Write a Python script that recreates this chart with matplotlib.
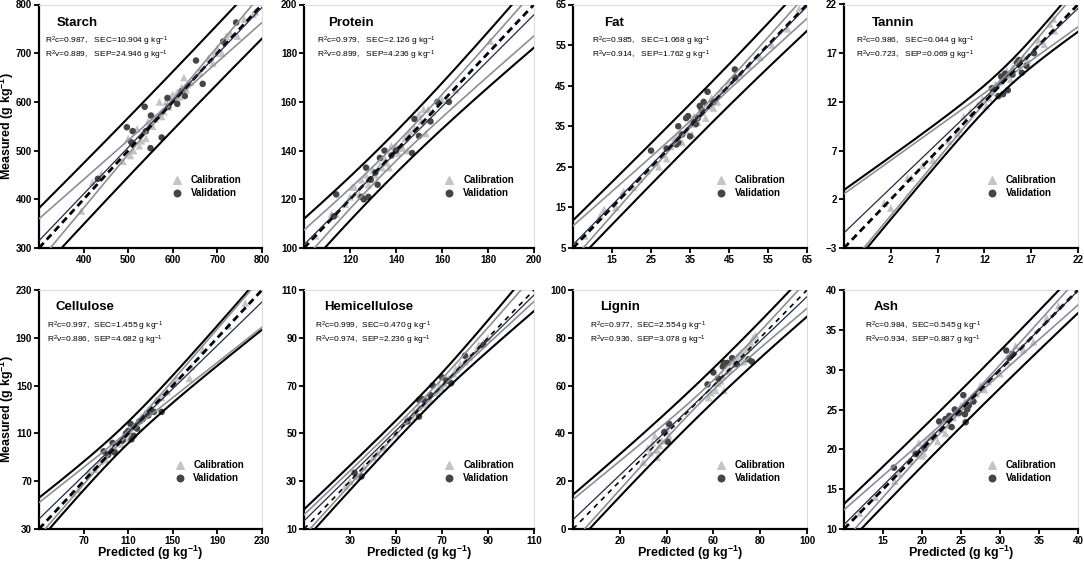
import numpy as np
import matplotlib
matplotlib.use("Agg")
import matplotlib.pyplot as plt

plt.rcParams["font.family"] = ["Liberation Sans", "DejaVu Sans"]
plt.rcParams["mathtext.fontset"] = "custom"
plt.rcParams["mathtext.rm"] = "Liberation Sans"
plt.rcParams["mathtext.it"] = "Liberation Sans:italic"
plt.rcParams["mathtext.bf"] = "Liberation Sans:bold"

# Data
names = ["Starch", "Protein", "Fat", "Tannin",
         "Cellulose", "Hemicellulose", "Lignin", "Ash"]
limits = [(300, 800), (100, 200), (5, 65), (-3, 22),
          (30, 230), (10, 110), (0, 100), (10, 40)]
xticks = [[400, 500, 600, 700, 800], [120, 140, 160, 180, 200],
          [15, 25, 35, 45, 55, 65], [2, 7, 12, 17, 22],
          [70, 110, 150, 190, 230], [30, 50, 70, 90, 110],
          [20, 40, 60, 80, 100], [15, 20, 25, 30, 35, 40]]
yticks = [[300, 400, 500, 600, 700, 800], [100, 120, 140, 160, 180, 200],
          [5, 15, 25, 35, 45, 55, 65], [-3, 2, 7, 12, 17, 22],
          [30, 70, 110, 150, 190, 230], [10, 30, 50, 70, 90, 110],
          [0, 20, 40, 60, 80, 100], [10, 15, 20, 25, 30, 35, 40]]

r2c = ["0.987", "0.979", "0.985", "0.986", "0.997", "0.999", "0.977", "0.984"]
sec = ["10.904", "2.126", "1.068", "0.044", "1.455", "0.470", "2.554", "0.545"]
r2v = ["0.889", "0.899", "0.914", "0.723", "0.886", "0.974", "0.936", "0.934"]
sep = ["24.946", "4.236", "1.762", "0.069", "4.682", "2.236", "3.078", "0.887"]

# regression line (y at x-min, y at x-max) and centre of the bands
reg_line = [(315, 794), (101.4, 195.8), (5.8, 64.5), (-1.44, 21.6),
            (38.4, 220), (13.4, 107.9), (3.9, 97.2), (10.55, 39.9)]
band_mid = [(316, 793), (101.3, 196.3), (6.3, 64.6), (-1.44, 21.6),
            (38.1, 219.8), (11.6, 110.7), (3.5, 98.1), (10.45, 39.8)]
x_mean = [594, 137, 37, 14, 110, 62, 58, 25.5]
# confidence band: half width at mean, at x-min, at x-max
conf_band = [(3, 44, 30), (3.5, 6.1, 9.2), (0.8, 4.15, 3.05), (0.2, 4.0, 1.9),
             (1.5, 14, 21), (1.5, 4.35, 5.5), (2, 8.85, 5.8), (0.3, 1.96, 1.68)]
# prediction band: half width at mean, at x-min, at x-max
pred_band = [(60, 66, 63), (8.5, 10.7, 14), (5, 5.5, 6.1), (1.2, 4.4, 2.4),
             (9, 18, 23), (4, 6.6, 9.5), (7, 10.85, 9.25), (2.3, 2.7, 2.7)]

cal_pts = [
    [(395, 376), (420, 435), (440, 452), (488, 478), (500, 525), (505, 490), (512, 500),
     (520, 545), (525, 510), (530, 520), (540, 525), (545, 560), (550, 555), (555, 550),
     (560, 565), (570, 600), (575, 570), (580, 580), (585, 600), (590, 590), (595, 610),
     (600, 615), (605, 605), (610, 620), (615, 610), (620, 630), (625, 650), (630, 625),
     (640, 640), (660, 660), (680, 690), (690, 680), (695, 700), (700, 710), (710, 700),
     (720, 735), (730, 740), (745, 735), (760, 770), (780, 780), (785, 785)],
    [(105, 105), (112, 114), (114, 114), (118, 118), (120, 121), (121, 125), (122, 125),
     (124, 122), (125, 128), (127, 130), (128, 126), (130, 132), (131, 130), (133, 134),
     (134, 133), (135, 137), (136, 135), (137, 133), (138, 142), (139, 140), (140, 142),
     (141, 139), (143, 141), (144, 145), (145, 140), (145, 146), (146, 148), (148, 149),
     (150, 155), (151, 152), (152, 157), (153, 147), (154, 157), (156, 156), (160, 161),
     (166, 165), (181, 185)],
    [(8, 8), (12, 13), (13, 14.5), (16, 15), (18, 19), (20.5, 20), (22, 22), (24, 24),
     (26, 26), (27, 25), (28, 28), (29, 27), (30, 30), (31, 32), (32, 33), (33, 31),
     (34, 34), (35, 35.5), (35.5, 33), (36, 37.5), (37, 36), (38, 38.5), (39, 37),
     (40, 40), (40.5, 42), (41, 39.5), (42, 41), (43, 44), (45, 46), (47, 47), (48, 48),
     (50, 50), (53, 52), (56, 55), (60, 59), (63, 64)],
    [(1.3, 1.6), (2, 1.1), (3.8, 4.2), (4.2, 4.2), (5.4, 5.5), (6.5, 6), (8.2, 8),
     (9.1, 8.8), (9.3, 9.2), (9.8, 10.5), (10.5, 11), (11.3, 11.7), (11.8, 12.3),
     (12.2, 11.6), (12.5, 12.4), (12.8, 13), (13.2, 13.8), (13.7, 14.2), (14.4, 15.2),
     (14.8, 14.3), (15, 15.5), (15.3, 16.3), (16.2, 16.5), (16.6, 16.3), (17.3, 17.2),
     (17.8, 18.3), (18.4, 17.9), (19, 20), (19.5, 19.3), (19.4, 20.5)],
    [(60, 60), (65, 63), (75, 78), (80, 80), (85, 87), (90, 88), (94, 95), (98, 98),
     (102, 104), (104, 101), (106, 108), (108, 106), (110, 113), (112, 110), (115, 117),
     (117, 116), (120, 121), (122, 124), (125, 127), (128, 130), (131, 132), (135, 138),
     (140, 140), (145, 145), (150, 152), (153, 156), (165, 156), (167, 166), (177, 180),
     (200, 200), (215, 219)],
    [(28, 28), (30, 30), (33, 32), (36, 36), (40, 40), (42, 42), (45, 44), (50, 50),
     (55, 56), (57, 57), (58, 59), (60, 61), (62, 62), (63, 63), (64, 65), (65, 64),
     (67, 67), (68, 68), (69, 70), (70, 69), (71, 71), (72, 73), (73, 73), (75, 75),
     (76, 77), (78, 79), (80, 80), (82, 82), (85, 85), (86, 87), (88, 88), (90, 90)],
    [(30, 28), (32, 34), (33, 32), (34, 36), (35, 39), (36, 33), (36, 30), (37, 35),
     (38, 37), (39, 41), (40, 42), (41, 39), (42, 44), (58, 55), (59, 57), (61, 58),
     (62, 61), (63, 62), (64, 64), (64.5, 58), (66, 66), (67, 67), (68, 70), (69, 69),
     (70, 72), (71, 73), (72, 74), (73, 71), (73, 70), (74, 75), (75, 76), (76, 78),
     (77, 80), (78, 81)],
    [(12, 12), (14, 14), (16.5, 16), (17, 17), (18.5, 18.5), (19, 20), (19.6, 20.8),
     (20, 19.2), (20.2, 19.5), (20.5, 21), (21, 21.5), (21.5, 22), (22, 21), (22.5, 22.5),
     (23, 22), (23.5, 23), (24, 24), (24.5, 24.5), (25, 25.5), (25.5, 26), (26, 25.8),
     (26.5, 26.5), (27, 27), (27.5, 28), (28, 27.5), (28.5, 28.5), (30, 29.5), (31, 31),
     (32, 33), (33, 32.5), (34.3, 33.5), (36, 36.5), (37.5, 38)],
]
val_pts = [
    [(497, 548), (510, 540), (537, 590), (551, 572), (507, 517), (550, 505), (575, 527),
     (432, 442), (588, 608), (610, 596), (620, 622), (627, 612), (652, 685), (667, 637),
     (713, 724), (742, 763), (590, 590), (540, 540)],
    [(114, 122), (113, 113), (127, 133), (125, 121), (126, 120), (128, 121), (129, 128),
     (131, 131), (133, 137), (132, 126), (135, 140), (138, 138), (140, 140), (147, 139),
     (148, 153), (150, 146), (155, 152), (158, 160), (163, 160)],
    [(25, 29), (29, 29.5), (31.5, 30.5), (32, 35), (33, 33), (34, 37), (34.5, 37.5),
     (35, 32.5), (36, 36), (36.5, 35.5), (37, 37), (37.5, 40), (38, 39), (38.5, 41),
     (39.5, 43.5), (41, 41), (46.5, 47), (46.5, 49), (32, 31)],
    [(12.8, 13.4), (13.8, 14.6), (13.5, 12.6), (14, 12.8), (14.5, 13.2), (15, 14.8),
     (15.5, 16), (15.7, 16.3), (16, 15), (16.5, 15.7), (17.3, 17), (14.2, 14.9)],
    [(88, 95), (92, 92), (96, 102), (98, 94), (108, 110), (110, 112), (112, 118),
     (113, 105), (115, 108), (118, 114), (120, 120), (123, 122), (128, 125), (133, 128),
     (140, 128), (105, 104)],
    [(32, 33.5), (35, 32), (55, 55), (60, 57), (60, 64), (61, 64.5), (62, 64), (66, 70),
     (70, 73.5), (74, 71), (80, 82.5), (88, 87), (65, 66), (72, 72)],
    [(39, 40.5), (40.5, 36.5), (41, 44), (57.5, 60.5), (60, 65.5), (64, 68), (64.5, 69.5),
     (66, 69.5), (68, 71.5), (70, 69), (75, 71), (76.5, 70), (62, 63)],
    [(16.4, 17.7), (19.2, 19.4), (20.3, 20.1), (22.2, 23.5), (23, 23.8), (23.5, 24.2),
     (23.8, 22.8), (24.2, 25), (25.3, 26.8), (25.5, 24.4), (25.6, 23.4), (25.8, 25),
     (26, 25.5), (26.6, 26), (30.8, 32.4), (31.6, 32), (31.2, 31.5), (24.8, 24.6)],
]

# Layout (pixels)
W, H = 1084, 563
lefts = [39, 304, 573, 844]
widths = [223, 230, 234, 234]
rows = [(4.5, 248), (290, 529)]
title_x = [0.08, 0.104, 0.133, 0.119, 0.072, 0.087, 0.115, 0.128]
stat_x = [0.027, 0.057, 0.08, 0.05, 0.036, 0.047, 0.072, 0.089]
dash_w = [2.0, 2.0, 2.0, 2.0, 2.0, 1.2, 1.2, 2.0]


def half_width(x, xm, lo, hi, band):
    a, hl, hr = band
    bl = np.sqrt(max(hl ** 2 - a ** 2, 0)) / (xm - lo)
    br = np.sqrt(max(hr ** 2 - a ** 2, 0)) / (hi - xm)
    b = np.where(x < xm, bl, br)
    return np.sqrt(a ** 2 + (b * (x - xm)) ** 2)


fig = plt.figure(figsize=(W / 100, H / 100), dpi=100)

for i, name in enumerate(names):
    row, col = divmod(i, 4)
    top, bot = rows[row]
    ax = fig.add_axes([lefts[col] / W, (H - bot) / H, widths[col] / W, (bot - top) / H])
    lo, hi = limits[i]
    x = np.linspace(lo, hi, 400)

    mid = band_mid[i][0] + (band_mid[i][1] - band_mid[i][0]) * (x - lo) / (hi - lo)
    hc = half_width(x, x_mean[i], lo, hi, conf_band[i])
    hp = half_width(x, x_mean[i], lo, hi, pred_band[i])

    cal = np.array(cal_pts[i])
    val = np.array(val_pts[i])
    ax.scatter(cal[:, 0], cal[:, 1], marker="^", s=30, color="#c4c4c4",
               edgecolors="none", zorder=2)
    ax.scatter(val[:, 0], val[:, 1], marker="o", s=22, color="#454545",
               edgecolors="none", zorder=2)

    ax.plot(x, mid + hp, color="black", lw=1.5, zorder=3)
    ax.plot(x, mid - hp, color="black", lw=1.5, zorder=3)
    ax.plot(x, mid + hc, color="#8f8f8f", lw=1.2, zorder=3)
    ax.plot(x, mid - hc, color="#8f8f8f", lw=1.2, zorder=3)
    ax.plot([lo, hi], [lo, hi], color="black", lw=dash_w[i],
            dashes=(2.5, 1.6) if dash_w[i] > 1.5 else (3, 3), zorder=4)
    ax.plot([lo, hi], list(reg_line[i]), color="#1d2b4f", lw=0.9, zorder=4)

    ax.set_xlim(lo, hi)
    ax.set_ylim(lo, hi)
    ax.set_xticks(xticks[i])
    ax.set_yticks(yticks[i])
    ax.tick_params(direction="out", length=3.5, width=1.3, labelsize=7, pad=1.5)
    for lab in ax.get_xticklabels() + ax.get_yticklabels():
        lab.set_fontweight("bold")
    for side in ["left", "bottom"]:
        ax.spines[side].set_linewidth(1.6)
    for side in ["top", "right"]:
        ax.spines[side].set_color("#dcdcdc")
        ax.spines[side].set_linewidth(0.8)

    ty = 0.925 if row == 0 else 0.93
    ax.text(title_x[i], ty, name, transform=ax.transAxes, fontsize=9.5,
            fontweight="bold", va="center")
    gap = "   " if row == 0 else "  "
    ax.text(stat_x[i], 0.847, "R$^2$c=" + r2c[i] + "," + gap + "SEC=" + sec[i] + " g kg$^{-1}$",
            transform=ax.transAxes, fontsize=6, va="center")
    ax.text(stat_x[i], 0.79, "R$^2$v=" + r2v[i] + "," + gap + "SEP=" + sep[i] + " g kg$^{-1}$",
            transform=ax.transAxes, fontsize=6, va="center")

    mx = 0.617 if i == 0 else 0.632
    tx = 0.68 if i == 0 else 0.692
    ly = (0.279, 0.227) if row == 0 else (0.268, 0.212)
    ax.scatter([mx], [ly[0]], marker="^", s=30, color="#c4c4c4", transform=ax.transAxes,
               clip_on=False, zorder=5)
    ax.scatter([mx], [ly[1]], marker="o", s=22, color="#454545", transform=ax.transAxes,
               clip_on=False, zorder=5)
    ax.text(tx, ly[0], "Calibration", transform=ax.transAxes, fontsize=7,
            fontweight="bold", va="center")
    ax.text(tx, ly[1], "Validation", transform=ax.transAxes, fontsize=7,
            fontweight="bold", va="center")

    if col == 0:
        ax.set_ylabel("Measured (g kg$^{\\mathbf{-1}}$)", fontsize=9, fontweight="bold")
        ax.yaxis.set_label_coords(-0.102, 0.5)
    if row == 1:
        ax.set_xlabel("Predicted (g kg$^{\\mathbf{-1}}$)", fontsize=9, fontweight="bold")
        ax.xaxis.set_label_coords(0.5, -0.062)

fig.savefig("out.png", dpi=100)
